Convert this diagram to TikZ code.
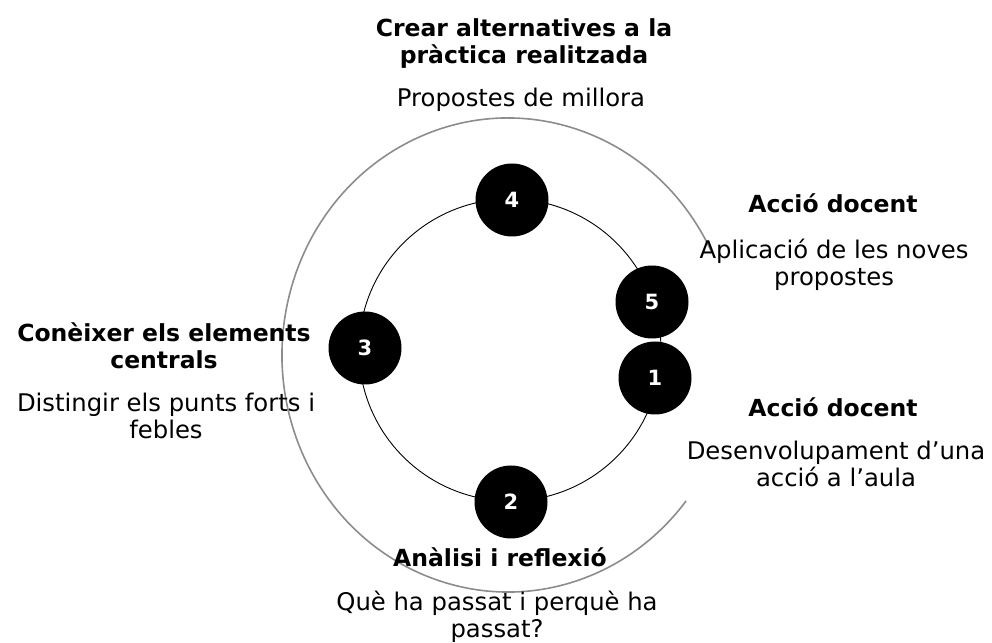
\documentclass[tikz,border=0pt]{standalone}
\usepackage{fontspec}
\setmainfont{DejaVu Sans}
\begin{document}
\begin{tikzpicture}[x=1pt,y=1pt,
  stepdot/.style={circle,fill=black,draw=none,minimum size=73pt,inner sep=0pt,
    text=white,font=\fontsize{21}{23}\selectfont\bfseries},
  ring/.style={draw=black,line width=0.9pt},
  outerring/.style={draw=black!45,line width=1.6pt},
  head/.style={align=center,inner sep=0pt,font=\fontsize{23.5}{27}\selectfont\bfseries},
  body/.style={align=center,inner sep=0pt,font=\fontsize{24.3}{27}\selectfont}]
\useasboundingbox (0,0) rectangle (992,642);
% outer grey arc
\coordinate (oc) at (508,287);
\draw[outerring] (oc) ++(26:226 and 237) arc[start angle=26,end angle=322,x radius=226,y radius=237];
% inner ring
\coordinate (ic) at (510,292);
\draw[ring] (ic) circle[radius=151];
% numbered steps
\node[stepdot] (n4) at (512,442) {4};
\node[stepdot] (n5) at (652,340) {5};
\node[stepdot] (n1) at (655,264) {1};
\node[stepdot] (n3) at (365,294) {3};
\node[stepdot] (n2) at (511,140) {2};
% labels
\node[head] (t4) at (524,598) {Crear alternatives a la\\pràctica realitzada};
\node[body] (d4) at (521,542) {Propostes de millora};
\node[head] (t5) at (833,439) {Acció docent};
\node[body] (d5) at (834,377) {Aplicació de les noves\\propostes};
\node[head] (t1) at (833,235) {Acció docent};
\node[body] (d1) at (836,178) {Desenvolupament d’una\\acció a l’aula};
\node[head] (t3) at (164,296) {Conèixer els elements\\centrals};
\node[body] (d3) at (166,226) {Distingir els punts forts i\\febles};
\node[head] (t2) at (500,85) {Anàlisi i reflexió};
\node[body] (d2) at (497,25) {Què ha passat i perquè ha\\passat?};
\end{tikzpicture}
\end{document}
